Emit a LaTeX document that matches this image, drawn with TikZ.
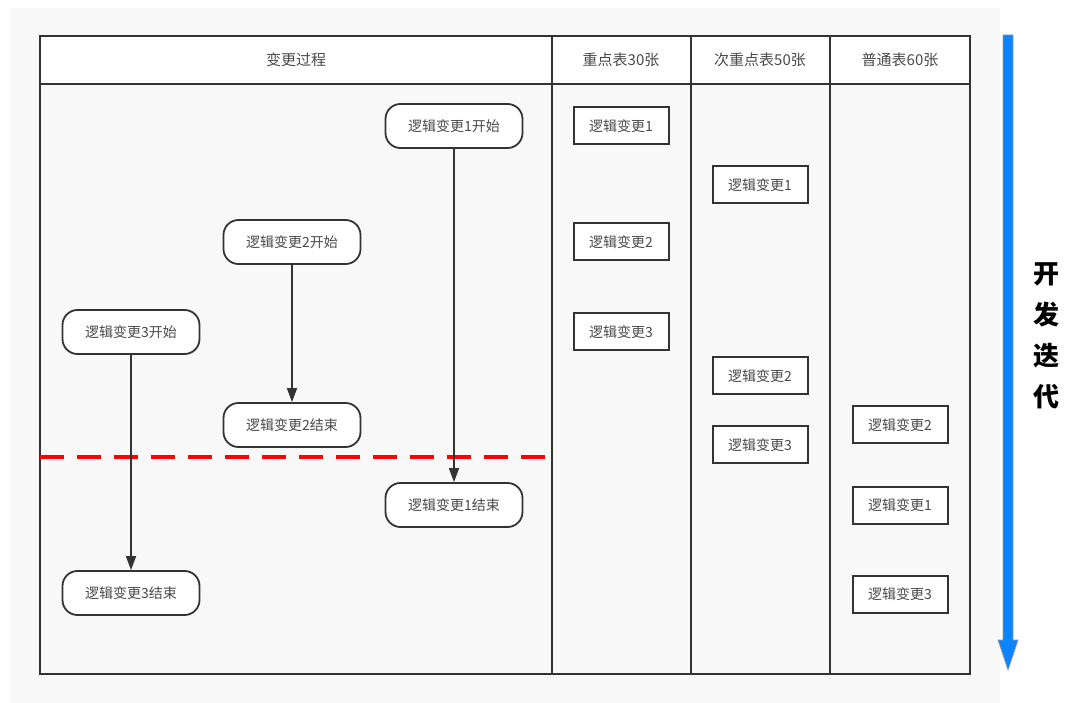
\documentclass[tikz,border=0pt]{standalone}
\usepackage{fontspec}
\setmainfont{Noto Sans CJK SC}
\usetikzlibrary{arrows.meta}
\definecolor{linec}{HTML}{333333}
\definecolor{textc}{HTML}{4A4A4A}
\definecolor{bgc}{HTML}{F8F8F8}
\definecolor{bluec}{HTML}{0A84FF}
\begin{document}
\begin{tikzpicture}[x=1pt,y=-1pt,
  proc/.style={draw=linec, line width=1.8pt, rounded corners=15pt, fill=white,
    minimum width=137pt, minimum height=44pt, inner sep=0pt,
    font=\fontsize{14}{16}\selectfont, text=textc},
  tbl/.style={draw=linec, line width=2pt, fill=white,
    minimum width=95pt, minimum height=37pt, inner sep=0pt,
    font=\fontsize{14}{16}\selectfont, text=textc},
  hdr/.style={font=\fontsize{15}{17}\selectfont, text=textc, inner sep=0pt},
  flow/.style={draw=linec, line width=1.6pt, -{Triangle[length=14pt,width=10pt]}},
  frame/.style={draw=linec, line width=2pt}
]
\useasboundingbox (0,0) rectangle (1080,703);
\fill[bgc] (10,8) rectangle (1000,703);
% lanes
\fill[white] (40,36) rectangle (970,84);
\draw[frame] (40,36) rectangle (970,674);
\draw[frame] (40,84) -- (970,84);
\draw[frame] (552,36) -- (552,674);
\draw[frame] (691,36) -- (691,674);
\draw[frame] (830,36) -- (830,674);
\node[hdr] (h0) at (296,60) {变更过程};
\node[hdr] (h1) at (621,60) {重点表30张};
\node[hdr] (h2) at (760,60) {次重点表50张};
\node[hdr] (h3) at (900,60) {普通表60张};
% process nodes
\node[proc] (s1) at (454,126) {逻辑变更1开始};
\node[proc] (s2) at (292,242) {逻辑变更2开始};
\node[proc] (s3) at (131,332) {逻辑变更3开始};
\node[proc] (e2) at (292,425) {逻辑变更2结束};
\node[proc] (e1) at (454,505) {逻辑变更1结束};
\node[proc] (e3) at (131,593) {逻辑变更3结束};
% dashed cut
\coordinate (dl) at (40,457);
\coordinate (dr) at (552,457);
\draw[red, line width=4pt, dash pattern=on 24pt off 13pt] (dl) -- (dr);
\draw[flow] (s1) -- (e1);
\draw[flow] (s2) -- (e2);
\draw[flow] (s3) -- (e3);
% table nodes
\node[tbl] (a1) at (621,126) {逻辑变更1};
\node[tbl] (a2) at (621,242) {逻辑变更2};
\node[tbl] (a3) at (621,332) {逻辑变更3};
\node[tbl] (b1) at (760,185) {逻辑变更1};
\node[tbl] (b2) at (760,376) {逻辑变更2};
\node[tbl] (b3) at (760,445) {逻辑变更3};
\node[tbl] (c2) at (900,425) {逻辑变更2};
\node[tbl] (c1) at (900,505) {逻辑变更1};
\node[tbl] (c3) at (900,594) {逻辑变更3};
% big blue arrow
\filldraw[fill=bluec, draw=gray!80, line width=0.8pt]
  (1003,35) -- (1013,35) -- (1013,640) -- (1018,640) -- (1008,670)
  -- (998,640) -- (1003,640) -- cycle;
\node[font=\fontsize{26}{41}\selectfont\bfseries, text=black, align=center, inner sep=0pt] (it) at (1046,336) {开\\发\\迭\\代};
\end{tikzpicture}
\end{document}
